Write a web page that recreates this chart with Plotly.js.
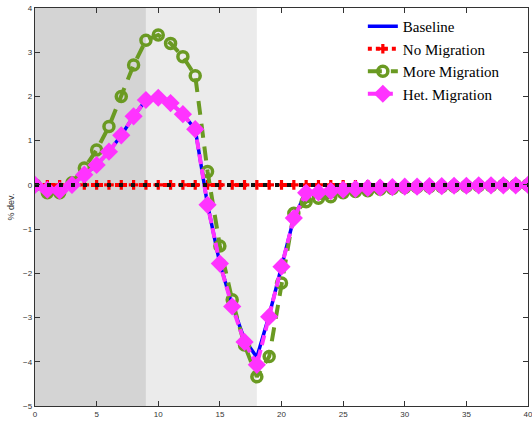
<!DOCTYPE html>
<html><head><meta charset="utf-8">
<script src="https://cdn.plot.ly/plotly-3.0.1.min.js"></script>
<style>html,body{margin:0;padding:0;background:#fff}#plot{width:532px;height:423px}</style>
</head><body><div id="plot"></div>
<script>
const periods = Array.from({length: 41}, (_, i) => i);
const baseline = [0, -0.11, -0.13, 0.0, 0.23, 0.45, 0.75, 1.12, 1.55, 1.92, 1.97, 1.85, 1.6, 1.26, -0.45, -1.78, -2.72, -3.5, -3.9, -2.95, -1.85, -0.75, -0.16, -0.15, -0.13, -0.11, -0.09, -0.07, -0.06, -0.05, -0.04, -0.04, -0.03, -0.03, -0.02, -0.02, -0.01, -0.01, -0.01, -0.01, 0];
const noMigration = new Array(41).fill(0);
const moreMigration = [0, -0.18, -0.18, 0.05, 0.38, 0.79, 1.32, 2.0, 2.71, 3.27, 3.39, 3.2, 2.9, 2.47, 0.3, -1.38, -2.6, -3.62, -4.34, -3.88, -2.22, -0.64, -0.38, -0.3, -0.27, -0.18, -0.15, -0.13, -0.1, -0.08, -0.06, -0.05, -0.04, -0.04, -0.03, -0.03, -0.02, -0.02, -0.01, -0.01, 0];
const hetMigration = [0, -0.11, -0.13, 0.0, 0.23, 0.45, 0.75, 1.12, 1.55, 1.92, 1.97, 1.85, 1.6, 1.26, -0.45, -1.78, -2.75, -3.55, -4.07, -2.98, -1.85, -0.75, -0.18, -0.17, -0.14, -0.11, -0.09, -0.07, -0.06, -0.05, -0.04, -0.04, -0.03, -0.03, -0.02, -0.02, -0.01, -0.01, -0.01, -0.01, 0];
const shadeDark = [0, 9];
const shadeLight = [9, 18];
const xTicks = [0, 5, 10, 15, 20, 25, 30, 35, 40];
const yTicks = [-5, -4, -3, -2, -1, 0, 1, 2, 3, 4];

const traces = [
  {x: periods, y: baseline, name: 'Baseline', mode: 'lines',
   line: {color: '#0000ff', width: 3.5}},
  {x: periods, y: noMigration, name: 'No Migration', mode: 'lines+markers',
   line: {color: '#ff0000', width: 4, dash: 'dot'},
   marker: {symbol: 'cross', size: 8, color: '#ff0000'}},
  {x: periods, y: moreMigration, name: 'More Migration', mode: 'lines+markers',
   line: {color: '#6a9a22', width: 4, dash: '14px,9px'},
   marker: {symbol: 'circle-open', size: 10, color: '#6a9a22', line: {width: 3.5, color: '#6a9a22'}}},
  {x: periods, y: hetMigration, name: 'Het. Migration', mode: 'lines+markers',
   line: {color: '#ff33ff', width: 4, dash: '10px,5px'},
   marker: {symbol: 'diamond', size: 14, color: '#ff33ff'}},
  {x: periods, y: noMigration, name: 'zero', mode: 'lines', showlegend: false,
   line: {color: '#111111', width: 4, dash: '4px,8px'}, hoverinfo: 'skip'}
];

const layout = {
  width: 532, height: 423,
  margin: {l: 35, r: 4, t: 8, b: 17},
  paper_bgcolor: '#ffffff', plot_bgcolor: '#ffffff',
  showlegend: true,
  legend: {x: 0.665, y: 0.995, xanchor: 'left', yanchor: 'top', bgcolor: 'rgba(255,255,255,0)',
    font: {family: '"Liberation Serif", "DejaVu Serif", serif', size: 15, color: '#000'},
    tracegroupgap: 0, itemwidth: 30},
  shapes: [
    {type: 'rect', xref: 'x', yref: 'paper', x0: shadeDark[0], x1: shadeDark[1], y0: 0, y1: 1,
     fillcolor: '#d4d4d4', line: {width: 0}, layer: 'below'},
    {type: 'rect', xref: 'x', yref: 'paper', x0: shadeLight[0], x1: shadeLight[1], y0: 0, y1: 1,
     fillcolor: '#ebebeb', line: {width: 0}, layer: 'below'}
  ],
  xaxis: {range: [0, 40], tickvals: xTicks, ticks: 'inside', ticklen: 5, tickcolor: '#333',
    showline: true, linecolor: '#333', linewidth: 1.3, mirror: 'ticks', showgrid: false, zeroline: false,
    ticklabeloverflow: 'allow',
    tickfont: {family: 'Liberation Sans', size: 8, color: '#333'}},
  yaxis: {range: [-5, 4], tickvals: yTicks, ticks: 'inside', ticklen: 5, tickcolor: '#333',
    showline: true, linecolor: '#333', linewidth: 1.3, mirror: 'ticks', showgrid: false, zeroline: false,
    ticklabeloverflow: 'allow',
    tickfont: {family: 'Liberation Sans', size: 8, color: '#333'},
    title: {text: '% dev.', font: {family: 'Liberation Sans', size: 9, color: '#333'}, standoff: 6}}
};
Plotly.newPlot('plot', traces, layout, {displayModeBar: false, staticPlot: true});
</script>
</body></html>
